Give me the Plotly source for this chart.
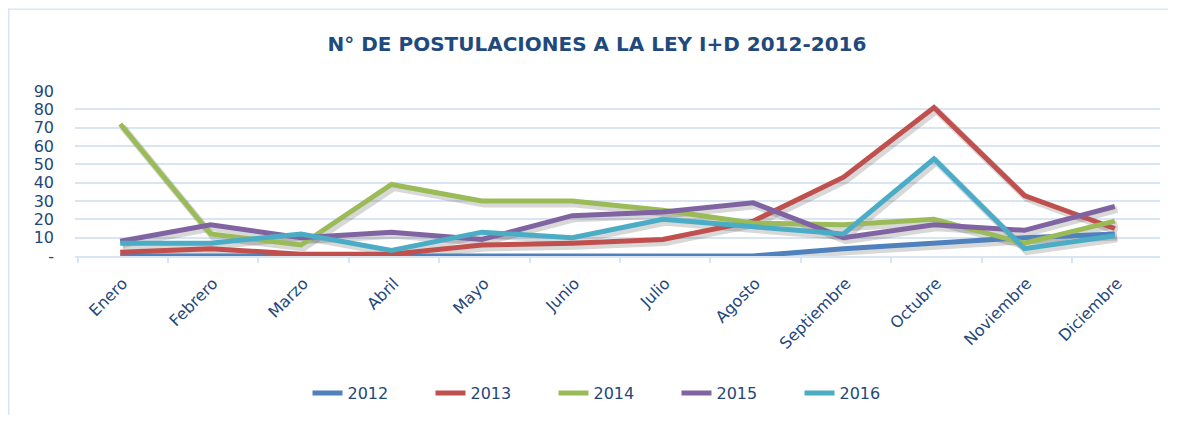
import plotly.graph_objects as go

months = ["Enero", "Febrero", "Marzo", "Abril", "Mayo", "Junio", "Julio",
          "Agosto", "Septiembre", "Octubre", "Noviembre", "Diciembre"]
y2012 = [0, 0, 0, 0, 0, 0, 0, 0, 4, 7, 10, 12]
y2013 = [2, 4, 1, 1, 6, 7, 9, 19, 43, 81, 33, 15]
y2014 = [72, 12, 6, 39, 30, 30, 25, 18, 17, 20, 7, 19]
y2015 = [8, 17, 10, 13, 9, 22, 24, 29, 10, 17, 14, 27]
y2016 = [7, 7, 12, 3, 13, 10, 20, 16, 12, 53, 4, 11]
years = ["2012", "2013", "2014", "2015", "2016"]
series = [y2012, y2013, y2014, y2015, y2016]
colors = ["#4F81BD", "#C0504D", "#9BBB59", "#8064A2", "#4BACC6"]

TXT = "#24477A"
GRID = "#DAE5F3"
FONT = "DejaVu Sans"

fig = go.Figure()

# soft shadows (base axes, drawn beneath)
for name, vals in zip(years, series):
    fig.add_trace(go.Scatter(x=months, y=vals, mode="lines", showlegend=False,
                             hoverinfo="skip",
                             line=dict(color="rgba(60,60,60,0.20)", width=7),
                             xaxis="x", yaxis="y"))

for name, vals, c in zip(years, series, colors):
    fig.add_trace(go.Scatter(x=months, y=vals, mode="lines", name=name,
                             line=dict(color=c, width=5),
                             xaxis="x2", yaxis="y2"))

# page is offset by the 8px body margin
W, H = 1160, 409
L, R, T, B = 67, 8, 83, 160
pw = W - L - R
ph = H - T - B
dx = 2.5 / (pw / 12.0)
dy = 3.0 / (ph / 90.0)

fig.update_layout(
    width=W, height=H,
    margin=dict(l=L, r=R, t=T, b=B),
    paper_bgcolor="white", plot_bgcolor="white",
    font=dict(family=FONT, color=TXT, size=15),
    title=dict(text="<b>N° DE POSTULACIONES A LA LEY I+D 2012-2016</b>",
               x=(597 - 8) / W, xanchor="center", y=1 - 36 / H, yanchor="middle",
               font=dict(family=FONT, size=20, color="#1F4A7D")),
    xaxis=dict(type="category", categoryorder="array", categoryarray=months,
               range=[-0.5 - dx, 11.5 - dx], showgrid=False,
               showline=True, linecolor=GRID, linewidth=1.5,
               ticks="outside", tickson="boundaries", ticklen=5,
               tickcolor=GRID, tickwidth=1.5, ticklabelstandoff=10,
               tickangle=-45, tickfont=dict(size=16, color=TXT, family=FONT)),
    yaxis=dict(range=[0 + dy, 90 + dy], showgrid=False, showticklabels=False,
               zeroline=False),
    xaxis2=dict(type="category", categoryorder="array", categoryarray=months,
                range=[-0.5, 11.5], overlaying="x", showticklabels=False,
                showgrid=False, showline=False, zeroline=False),
    yaxis2=dict(range=[0, 90], overlaying="y", tickmode="array",
                tickvals=[0, 10, 20, 30, 40, 50, 60, 70, 80, 90],
                ticktext=["-", "10", "20", "30", "40", "50", "60", "70", "80", "90"],
                showgrid=True, gridcolor=GRID, gridwidth=1.5,
                zeroline=False, showline=False, ticklabelstandoff=20,
                tickfont=dict(size=16, color=TXT, family=FONT)),
    legend=dict(orientation="h", x=(615 - 8 - L) / pw, xanchor="center",
                y=-(385 - (T + ph)) / ph, yanchor="middle",
                font=dict(size=16, color=TXT, family=FONT),
                entrywidth=78, tracegroupgap=0),
    shapes=[
        dict(type="line", xref="paper", yref="paper",
             x0=-L / pw, x1=1 + R / pw, y0=1 + (T - 0.75) / ph, y1=1 + (T - 0.75) / ph,
             line=dict(color=GRID, width=1.5)),
        dict(type="line", xref="paper", yref="paper",
             x0=(0.75 - L) / pw, x1=(0.75 - L) / pw, y0=1 + T / ph, y1=-B / ph,
             line=dict(color=GRID, width=1.5)),
    ],
)

fig.write_html("out.html")
